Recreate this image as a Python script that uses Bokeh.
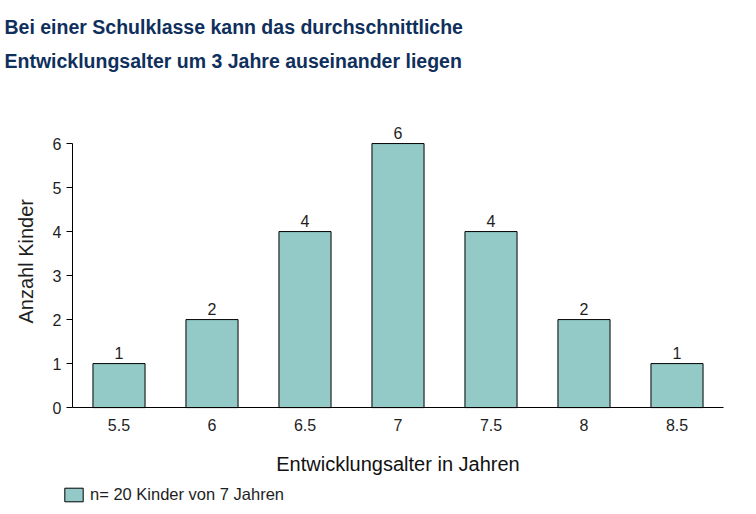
from bokeh.plotting import figure
from bokeh.models import ColumnDataSource, Range1d, FactorRange, Title, Legend, LegendItem
from bokeh.core.properties import value
from bokeh.embed import file_html
from bokeh.resources import INLINE

ages = ["5.5", "6", "6.5", "7", "7.5", "8", "8.5"]
counts = [1, 2, 4, 6, 4, 2, 1]
y_ticks = [0, 1, 2, 3, 4, 5, 6]
title_line1 = "Bei einer Schulklasse kann das durchschnittliche"
title_line2 = "Entwicklungsalter um 3 Jahre auseinander liegen"
series_name = "n= 20 Kinder von 7 Jahren"
x_title = "Entwicklungsalter in Jahren"
y_title = "Anzahl Kinder"

FONT = "Liberation Sans"
TITLE_COLOR = "#0F2F5C"
BAR_COLOR = "#93C9C6"
TXT = "#1E1E1E"

src = ColumnDataSource(dict(age=ages, n=counts, lbl=[str(c) for c in counts]))

p = figure(frame_width=691, frame_height=426, output_backend="svg", toolbar_location=None,
           x_range=FactorRange(factors=ages, range_padding=0.215, range_padding_units="absolute"),
           y_range=Range1d(-2.27, 7.41),
           min_border_left=52, min_border_right=7, min_border_bottom=3, min_border_top=81)
p.title.visible = False
p.outline_line_color = None
p.xgrid.grid_line_color = None
p.ygrid.grid_line_color = None

r = p.vbar(x="age", top="n", width=0.56, source=src, fill_color=BAR_COLOR,
           line_color="black", line_width=1)
p.text(x="age", y="n", text="lbl", source=src, text_align="center", text_baseline="bottom",
       y_offset=-5, text_font=value(FONT), text_font_size="16px", text_color=TXT)

# y axis (drawn at the left edge of the first category)
ya = p.yaxis[0]
ya.fixed_location = 0
ya.ticker = y_ticks
ya.bounds = (0, 6)
ya.major_label_text_font = FONT
ya.major_label_text_font_size = "16px"
ya.major_label_text_color = TXT
ya.major_tick_out = 6
ya.major_tick_in = 0
ya.minor_tick_out = 0
ya.minor_tick_in = 0
ya.major_label_standoff = 5
ya.axis_line_color = "black"
ya.major_tick_line_color = "black"

# y axis title in the left border
ytitle = Title(text=y_title, align="left", offset=184, standoff=28, vertical_align="top",
               text_font=FONT, text_font_size="20px", text_font_style="normal",
               text_color=TXT)
p.add_layout(ytitle, "left")

# x axis
xa = p.xaxis[0]
xa.fixed_location = 0
xa.bounds = (0, 7)
xa.axis_label = x_title
xa.axis_label_text_font = FONT
xa.axis_label_text_font_size = "20px"
xa.axis_label_text_font_style = "normal"
xa.axis_label_text_color = "#111111"
xa.axis_label_standoff = 19
xa.major_label_text_font = FONT
xa.major_label_text_font_size = "16px"
xa.major_label_text_color = TXT
xa.major_tick_out = 0
xa.major_tick_in = 0
xa.major_label_standoff = 11
xa.axis_line_color = "black"

# legend below the x-axis title
legend = Legend(items=[LegendItem(label=series_name, renderers=[r])],
                location=(10, 3), orientation="horizontal",
                label_text_font=FONT, label_text_font_size="16.5px", label_text_color=TXT,
                glyph_width=23, glyph_height=17, padding=0, margin=0, spacing=0,
                label_standoff=5, border_line_color=None, background_fill_alpha=0)
p.add_layout(legend, "center")

# titles
t2 = Title(text=title_line2, align="left", offset=-48, standoff=20,
           text_font=FONT, text_font_size="19.5px", text_font_style="bold",
           text_color=TITLE_COLOR)
t1 = Title(text=title_line1, align="left", offset=-48, standoff=0,
           text_font=FONT, text_font_size="19.5px", text_font_style="bold",
           text_color=TITLE_COLOR)
p.add_layout(t2, "above")
p.add_layout(t1, "above")

open("out.html", "w").write(file_html(p, INLINE))
